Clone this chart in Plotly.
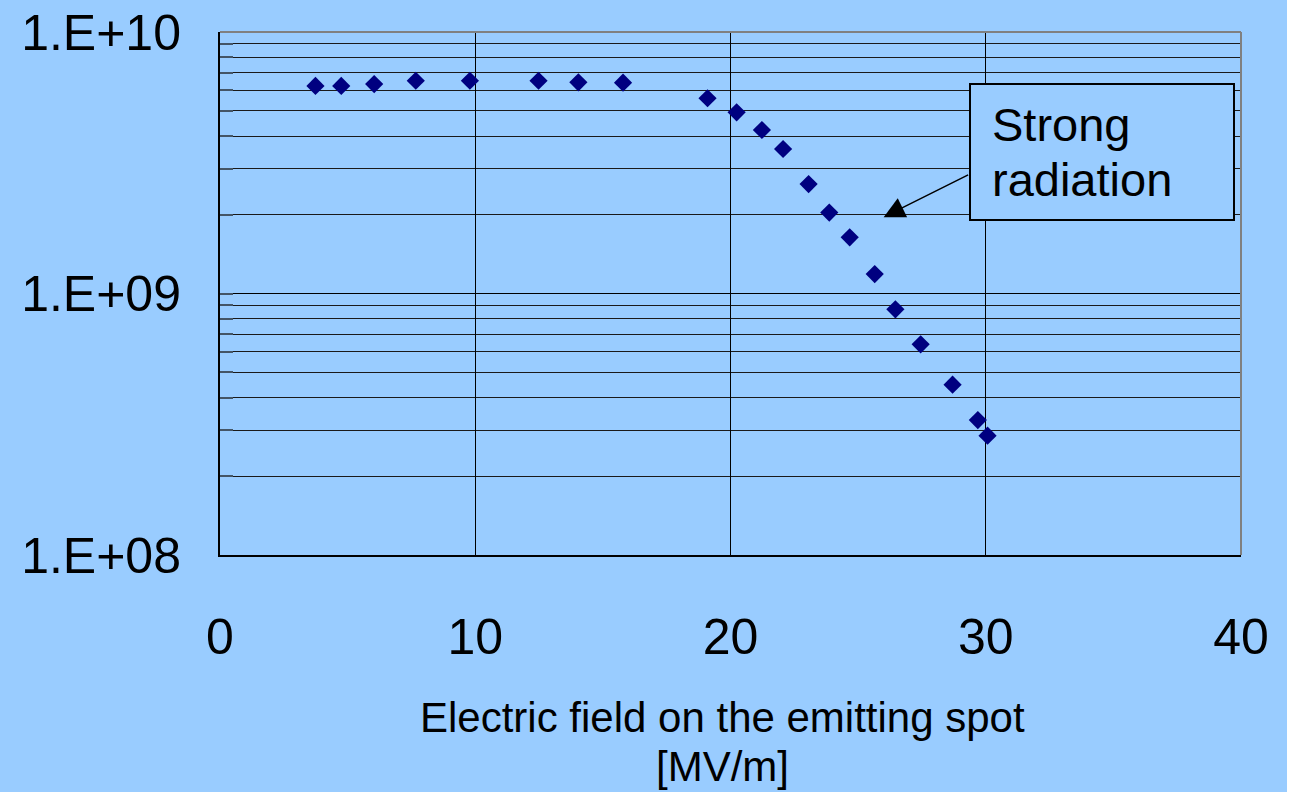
import plotly.graph_objects as go

# Data
field_mv_per_m = [3.74, 4.75, 6.04, 7.67, 9.79, 12.48, 14.04, 15.79, 19.10, 20.24,
                  21.23, 22.06, 23.06, 23.87, 24.67, 25.65, 26.46, 27.45, 28.70,
                  29.69, 30.07]
counts = [6.22e9, 6.22e9, 6.32e9, 6.51e9, 6.51e9, 6.51e9, 6.42e9, 6.40e9, 5.58e9,
          4.93e9, 4.22e9, 3.57e9, 2.62e9, 2.04e9, 1.64e9, 1.187e9, 8.70e8, 6.39e8,
          4.48e8, 3.28e8, 2.86e8]

x_ticks = [0, 10, 20, 30, 40]
y_ticks = [1e8, 1e9, 1e10]
y_tick_labels = ["1.E+08", "1.E+09", "1.E+10"]
y_minor_ticks = [m * 10 ** e for e in (8, 9) for m in range(2, 10)]

BG = "#99CCFF"
FONT = "Liberation Sans, Arial, sans-serif"

W, H = 1287, 792
L, R, T, B = 220, 46, 32, 237
PW, PH = W - L - R, H - T - B


def px_x(p):
    return (p - L) / PW


def px_y(p):
    return 1 - (p - T) / PH


fig = go.Figure()
fig.add_trace(go.Scatter(
    x=field_mv_per_m, y=counts, mode="markers",
    marker=dict(symbol="diamond", size=14, color="#000080",
                line=dict(width=0)),
    showlegend=False, hoverinfo="x+y",
))

fig.update_layout(
    width=W, height=H,
    margin=dict(l=L, r=R, t=T, b=B),
    paper_bgcolor=BG, plot_bgcolor=BG,
    font=dict(family=FONT, color="black"),
    xaxis=dict(
        range=[0, 40], tickvals=x_ticks, ticktext=[str(v) for v in x_ticks],
        showgrid=True, gridcolor="black", gridwidth=1,
        showline=True, linecolor="black", linewidth=2,
        ticks="inside", ticklen=18, tickcolor="black", tickwidth=1,
        tickfont=dict(family=FONT, size=50, color="black"),
        ticklabelstandoff=37, automargin=False,
        zeroline=False,
    ),
    yaxis=dict(
        type="log", range=[8, 10], tickvals=y_ticks, ticktext=y_tick_labels,
        showgrid=True, gridcolor="black", gridwidth=1,
        showline=True, linecolor="black", linewidth=2,
        ticks="inside", ticklen=13, tickcolor="#445566", tickwidth=2,
        tickfont=dict(family=FONT, size=50, color="black"),
        ticklabelstandoff=27, automargin=False,
        minor=dict(tickvals=y_minor_ticks, showgrid=True, gridcolor="#1a1a1a",
                   gridwidth=1, ticks="inside", ticklen=13,
                   tickcolor="#445566", tickwidth=2),
        zeroline=False,
    ),
)

# gray frame on top and right
fig.add_shape(type="line", xref="paper", yref="paper", x0=0, x1=1, y0=1, y1=1,
              line=dict(color="#808080", width=2), layer="above")
fig.add_shape(type="line", xref="paper", yref="paper", x0=1, x1=1, y0=0, y1=1,
              line=dict(color="#808080", width=2), layer="above")

# x axis title (two lines)
fig.add_annotation(
    xref="paper", yref="paper", x=px_x(722), y=px_y(717), yanchor="middle",
    xanchor="center", text="Electric field on the emitting spot", showarrow=False,
    font=dict(family=FONT, size=42, color="black"),
)
fig.add_annotation(
    xref="paper", yref="paper", x=px_x(722), y=px_y(766), yanchor="middle",
    xanchor="center", text="[MV/m]", showarrow=False,
    font=dict(family=FONT, size=42, color="black"),
)

# arrow pointing to the strong radiation region
fig.add_annotation(
    x=26.0, y=9.292, xref="x", yref="y", text=" ",
    showarrow=True, ax=86, ay=-43, axref="pixel", ayref="pixel",
    arrowhead=2, arrowsize=2.8, arrowwidth=1.5, arrowcolor="black",
    font=dict(size=1),
)

# callout box
fig.add_shape(type="rect", xref="paper", yref="paper",
              x0=px_x(970), x1=px_x(1234), y0=px_y(220), y1=px_y(84),
              fillcolor=BG, line=dict(color="black", width=2), layer="above")
fig.add_annotation(
    xref="paper", yref="paper", x=px_x(990), y=px_y(124), xanchor="left",
    yanchor="middle", text="Strong", showarrow=False,
    font=dict(family=FONT, size=47, color="black"),
)
fig.add_annotation(
    xref="paper", yref="paper", x=px_x(990), y=px_y(180), xanchor="left",
    yanchor="middle", text="radiation", showarrow=False,
    font=dict(family=FONT, size=47, color="black"),
)

fig.write_html("out.html")
